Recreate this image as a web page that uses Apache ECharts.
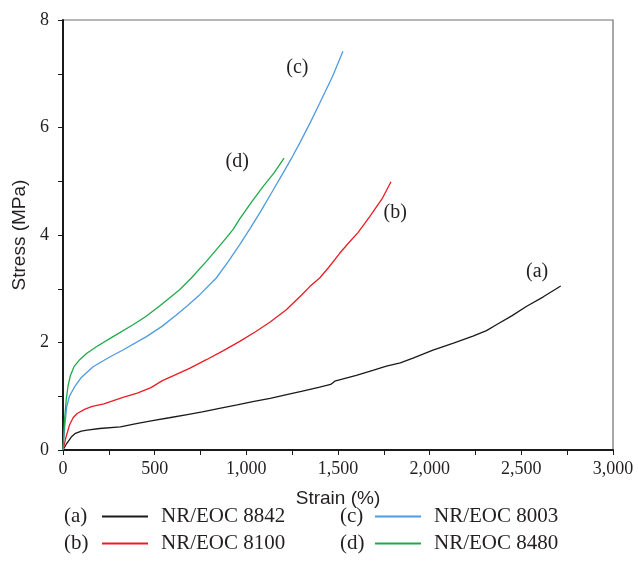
<!DOCTYPE html>
<html>
<head>
<meta charset="utf-8">
<script src="https://cdn.jsdelivr.net/npm/echarts@6/dist/echarts.min.js"></script>
<style>
html,body{margin:0;padding:0;background:#fff;}
#c{width:638px;height:581px;}
</style>
</head>
<body>
<div id="c"></div>
<script>
// Series data: [strain (%), stress (MPa)]
const seriesNames = ['NR/EOC 8842', 'NR/EOC 8100', 'NR/EOC 8003', 'NR/EOC 8480'];
const seriesTags = ['(a)', '(b)', '(c)', '(d)'];
const curveA = [[0,0],[20,0.12],[45,0.24],[68,0.31],[100,0.35],[131,0.37],[200,0.40],[313,0.43],[400,0.49],[496,0.55],[580,0.60],[678,0.66],[760,0.71],[860,0.78],[950,0.84],[1035,0.90],[1130,0.96],[1220,1.03],[1300,1.09],[1400,1.17],[1460,1.22],[1482,1.28],[1600,1.39],[1690,1.48],[1764,1.56],[1840,1.62],[1909,1.71],[2018,1.86],[2130,1.99],[2236,2.12],[2310,2.22],[2364,2.33],[2450,2.50],[2527,2.67],[2620,2.85],[2715,3.05]];
const curveB = [[0,0],[15,0.22],[35,0.46],[55,0.60],[77,0.68],[120,0.76],[160,0.81],[223,0.86],[327,0.98],[405,1.06],[480,1.16],[542,1.29],[600,1.38],[690,1.52],[782,1.68],[870,1.84],[964,2.02],[1050,2.20],[1130,2.38],[1218,2.61],[1300,2.88],[1346,3.04],[1400,3.20],[1450,3.40],[1509,3.66],[1560,3.86],[1610,4.05],[1673,4.34],[1740,4.67],[1789,4.99]];
const curveC = [[0,0],[10,0.45],[20,0.80],[35,1.00],[64,1.18],[100,1.35],[164,1.55],[250,1.72],[327,1.86],[455,2.11],[540,2.30],[618,2.51],[680,2.69],[746,2.89],[836,3.20],[900,3.50],[964,3.82],[1020,4.12],[1080,4.45],[1140,4.80],[1200,5.15],[1250,5.45],[1291,5.71],[1350,6.10],[1400,6.45],[1470,6.95],[1527,7.42]];
const curveD = [[0,0],[8,0.55],[18,0.95],[28,1.20],[40,1.38],[60,1.55],[91,1.68],[130,1.80],[182,1.92],[273,2.11],[382,2.33],[450,2.48],[527,2.68],[636,2.98],[700,3.20],[782,3.51],[860,3.82],[927,4.10],[964,4.30],[1030,4.62],[1091,4.90],[1150,5.15],[1206,5.43]];
// Positions of curve tags (strain, stress)
const tagPoints = [[2589,3.31],[1815,4.41],[1281,7.11],[953,5.36]];
const xTicks = {min:0, max:3000, interval:500};
const yTicks = {min:0, max:8, interval:2};
const colors = ['#1a1a1a', '#ec1c24', '#4f9be0', '#1faa4a'];
const textColor = '#231f20';

const chart = echarts.init(document.getElementById('c'));
const serif = 'Liberation Serif';
const sans = 'Liberation Sans';
const curves = [curveA, curveB, curveC, curveD];

const series = curves.map((d, i) => ({
  name: seriesNames[i],
  type: 'line',
  data: d,
  showSymbol: false,
  symbol: 'none',
  smooth: false,
  lineStyle: {color: colors[i], width: 1.3},
  itemStyle: {color: colors[i]},
  z: 3
}));
series.push({
  name: 'tags',
  type: 'scatter',
  data: tagPoints.map((p, i) => ({value: p, label: {formatter: seriesTags[i]}})),
  symbolSize: 1,
  itemStyle: {color: '#ffffff', opacity: 0},
  label: {show: true, position: [0, 0], align: 'center', verticalAlign: 'middle',
    fontFamily: serif, fontSize: 20, color: textColor, opacity: 1},
  silent: true,
  z: 4
});

const legendCommon = {
  orient: 'vertical',
  top: 503,
  padding: 0,
  itemWidth: 46,
  itemHeight: 14,
  itemGap: 0,
  icon: 'path://M0,9 L46,9 L46,11 L0,11 Z',
  textStyle: {fontFamily: serif, fontSize: 21, color: textColor, padding: [0,0,0,8], lineHeight: 27},
  selectedMode: false
};

const tagFont = '21px "Liberation Serif"';
chart.setOption({
  animation: false,
  backgroundColor: '#fff',
  grid: {left: 63, right: 25, top: 20, bottom: 131, show: true, borderColor: '#6f6f6f', borderWidth: 1.2, containLabel: false},
  xAxis: {
    type: 'value', min: xTicks.min, max: xTicks.max, interval: xTicks.interval,
    name: 'Strain (%)', nameLocation: 'middle', nameGap: 39,
    nameTextStyle: {fontFamily: sans, fontSize: 19, color: textColor},
    axisLine: {show: true, onZero: false, lineStyle: {color: '#1a1a1a', width: 2}},
    axisTick: {show: true, length: 5, lineStyle: {color: '#1a1a1a', width: 1}},
    minorTick: {show: true, splitNumber: 2, length: 5, lineStyle: {color: '#1a1a1a', width: 1}},
    axisLabel: {fontFamily: serif, fontSize: 18, color: textColor, margin: 10,
      formatter: v => v.toLocaleString('en-US')},
    splitLine: {show: false}
  },
  yAxis: {
    type: 'value', min: yTicks.min, max: yTicks.max, interval: yTicks.interval,
    name: 'Stress (MPa)', nameLocation: 'middle', nameGap: 32,
    nameTextStyle: {fontFamily: sans, fontSize: 19, color: textColor},
    axisLine: {show: true, onZero: false, lineStyle: {color: '#1a1a1a', width: 2}},
    axisTick: {show: true, length: 5, lineStyle: {color: '#1a1a1a', width: 1}},
    minorTick: {show: true, splitNumber: 2, length: 5, lineStyle: {color: '#1a1a1a', width: 1}},
    axisLabel: {fontFamily: serif, fontSize: 18, color: textColor, margin: 14},
    splitLine: {show: false}
  },
  legend: [
    Object.assign({}, legendCommon, {left: 102, data: [seriesNames[0], seriesNames[1]]}),
    Object.assign({}, legendCommon, {left: 375, data: [seriesNames[2], seriesNames[3]]})
  ],
  graphic: [
    {type: 'text', x: 64, y: 516.5, style: {text: seriesTags[0], font: tagFont, fill: textColor, verticalAlign: 'middle'}},
    {type: 'text', x: 64, y: 543.5, style: {text: seriesTags[1], font: tagFont, fill: textColor, verticalAlign: 'middle'}},
    {type: 'text', x: 340, y: 516.5, style: {text: seriesTags[2], font: tagFont, fill: textColor, verticalAlign: 'middle'}},
    {type: 'text', x: 340, y: 543.5, style: {text: seriesTags[3], font: tagFont, fill: textColor, verticalAlign: 'middle'}}
  ],
  series: series
});
</script>
</body>
</html>
